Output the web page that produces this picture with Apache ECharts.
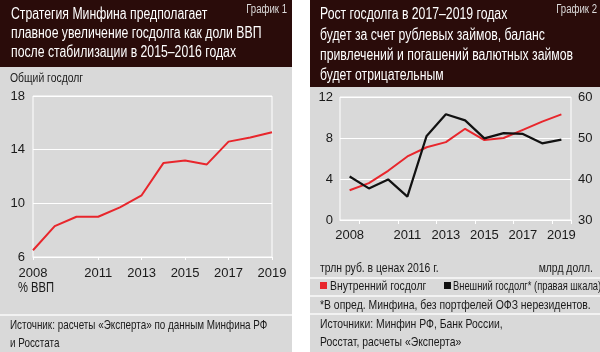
<!DOCTYPE html>
<html>
<head>
<meta charset="utf-8">
<script src="https://cdn.jsdelivr.net/npm/echarts@6/dist/echarts.min.js"></script>
<style>
html, body { margin: 0; padding: 0; background: #ffffff; }
#chart { width: 600px; height: 352px; }
</style>
</head>
<body>
<div id="chart"></div>
<script>
// годы по оси X
const years = ["2008", "2009", "2010", "2011", "2012", "2013", "2014", "2015", "2016", "2017", "2018", "2019"];
// График 1: общий госдолг, % ВВП
const totalDebt = [6.5, 8.3, 9.0, 9.0, 9.7, 10.6, 13.0, 13.2, 12.9, 14.6, 14.9, 15.3];
// График 2: внутренний госдолг, трлн руб. (левая шкала)
const domesticDebt = [2.9, 3.6, 4.8, 6.2, 7.1, 7.6, 8.9, 7.8, 8.0, 8.8, 9.6, 10.3];
// внешний госдолг, млрд долл. (правая шкала)
const externalDebt = [40.6, 37.7, 39.9, 35.7, 50.5, 55.8, 54.3, 49.9, 51.2, 51.0, 48.7, 49.6];
const shownYears = ["2008", "2011", "2013", "2015", "2017", "2019"];
const seriesNames = ["Внутренний госдолг", "Внешний госдолг* (правая шкала)"];

const FONT = '"Liberation Sans", Arial, sans-serif';
const DARK = "#2a0c0a";
const GRAY = "#d9d9d9";
const RED = "#e8262c";
const BLACK = "#111111";
const TXT = "#1a1a1a";
const NARROW = 0.8; // шрифт в оригинале узкий

const dom = echarts.init(document.getElementById("chart"), null, { renderer: "canvas" });

const hideAxisBits = { show: false };
const labelStyle = { color: TXT, fontFamily: FONT, fontSize: 13 };

function txt (x, y, text, opts, sx) {
    return {
        type: "text",
        x: x,
        y: y,
        z: 5,
        scaleX: sx || NARROW,
        style: Object.assign({
            text: text,
            fill: TXT,
            font: "13px " + FONT,
            verticalAlign: "middle"
        }, opts || {})
    };
}
function head (x, y, text) {
    return txt(x, y, text, { fill: "#ffffff", font: "16px " + FONT }, 0.765);
}
function rect (x, y, w, h, color, z) {
    return { type: "rect", shape: { x: x, y: y, width: w, height: h }, z: z === undefined ? -10 : z, style: { fill: color } };
}

const graphics = [
    // фон панелей
    rect(0, 0, 292, 352, GRAY),
    rect(0, 0, 292, 67, DARK, -9),
    rect(310, 0, 290, 352, GRAY),
    rect(310, 0, 290, 87, DARK, -9),
    // разделители
    rect(0, 314, 292, 2, "#f2f2f2", -8),
    rect(310, 277, 290, 2, "#f2f2f2", -8),
    rect(310, 295, 290, 2, "#f2f2f2", -8),
    rect(310, 313, 290, 2, "#f2f2f2", -8),

    // заголовок 1
    head(11, 15, "Стратегия Минфина предполагает"),
    head(11, 34, "плавное увеличение госдолга как доли ВВП"),
    head(11, 53, "после стабилизации в 2015–2016 годах"),
    txt(287, 10, "График 1", { fill: "#dddddd", font: "12px " + FONT, align: "right" }),
    txt(10, 78, "Общий госдолг"),
    txt(18, 288, "% ВВП", { font: "14px " + FONT }),
    txt(10, 325, "Источник: расчеты «Эксперта» по данным Минфина РФ", null, 0.76),
    txt(10, 343, "и Росстата", null, 0.76),

    // заголовок 2
    head(320, 15, "Рост госдолга в 2017–2019 годах"),
    head(320, 36, "будет за счет рублевых займов, баланс"),
    head(320, 56, "привлечений и погашений валютных займов"),
    head(320, 76, "будет отрицательным"),
    txt(597, 10, "График 2", { fill: "#dddddd", font: "12px " + FONT, align: "right" }),
    txt(320, 268, "трлн руб. в ценах 2016 г."),
    txt(593, 268, "млрд долл.", { align: "right" }),
    // легенда
    rect(320, 282, 7, 7, RED, 5),
    txt(330, 286, seriesNames[0]),
    rect(444, 282, 7, 7, BLACK, 5),
    txt(453, 286, seriesNames[1], null, 0.72),
    txt(320, 305, "*В опред. Минфина, без портфелей ОФЗ нерезидентов."),
    txt(320, 324, "Источники: Минфин РФ, Банк России,"),
    txt(320, 342, "Росстат, расчеты «Эксперта»")
];

const option = {
    animation: false,
    textStyle: { fontFamily: FONT },
    graphic: { elements: graphics },
    grid: [
        { left: 33, top: 96, width: 239, height: 161, show: true, borderColor: "#ffffff", borderWidth: 1, backgroundColor: "transparent" },
        { left: 340, top: 97, width: 231, height: 123, show: true, borderColor: "#ffffff", borderWidth: 1, backgroundColor: "transparent" }
    ],
    xAxis: [
        {
            type: "category",
            gridIndex: 0,
            data: years,
            boundaryGap: false,
            axisLine: { lineStyle: { color: "#ffffff", width: 1 } },
            axisTick: { show: true, length: 3, lineStyle: { color: "#ffffff" }, interval: (i, v) => shownYears.includes(v) },
            axisLabel: Object.assign({ margin: 10, interval: (i, v) => shownYears.includes(v) }, labelStyle),
            splitLine: hideAxisBits
        },
        {
            type: "category",
            gridIndex: 1,
            data: years,
            boundaryGap: true,
            axisLine: { lineStyle: { color: "#ffffff", width: 1 } },
            axisTick: { show: true, length: 4, lineStyle: { color: "#ffffff" }, interval: (i) => i % 2 === 1 },
            axisLabel: Object.assign({ margin: 9, interval: (i, v) => shownYears.includes(v) }, labelStyle),
            splitLine: hideAxisBits
        }
    ],
    yAxis: [
        {
            type: "value",
            gridIndex: 0,
            min: 6,
            max: 18,
            interval: 4,
            axisLine: hideAxisBits,
            axisTick: hideAxisBits,
            axisLabel: Object.assign({ margin: 8 }, labelStyle),
            splitLine: { lineStyle: { color: "#ffffff", width: 1 } }
        },
        {
            type: "value",
            gridIndex: 1,
            min: 0,
            max: 12,
            interval: 4,
            axisLine: hideAxisBits,
            axisTick: hideAxisBits,
            axisLabel: Object.assign({ margin: 7 }, labelStyle),
            splitLine: { lineStyle: { color: "#ffffff", width: 1 } }
        },
        {
            type: "value",
            gridIndex: 1,
            position: "right",
            min: 30,
            max: 60,
            interval: 10,
            axisLine: hideAxisBits,
            axisTick: hideAxisBits,
            axisLabel: Object.assign({ margin: 7 }, labelStyle),
            splitLine: hideAxisBits
        }
    ],
    series: [
        {
            name: "Общий госдолг",
            type: "line",
            xAxisIndex: 0,
            yAxisIndex: 0,
            data: totalDebt,
            symbol: "none",
            lineStyle: { color: RED, width: 2 },
            itemStyle: { color: RED },
            silent: true
        },
        {
            name: seriesNames[0],
            type: "line",
            xAxisIndex: 1,
            yAxisIndex: 1,
            data: domesticDebt,
            symbol: "none",
            lineStyle: { color: RED, width: 2 },
            itemStyle: { color: RED },
            silent: true
        },
        {
            name: seriesNames[1],
            type: "line",
            xAxisIndex: 1,
            yAxisIndex: 2,
            data: externalDebt,
            symbol: "none",
            lineStyle: { color: BLACK, width: 2.2 },
            itemStyle: { color: BLACK },
            silent: true
        }
    ]
};
dom.setOption(option);
</script>
</body>
</html>
